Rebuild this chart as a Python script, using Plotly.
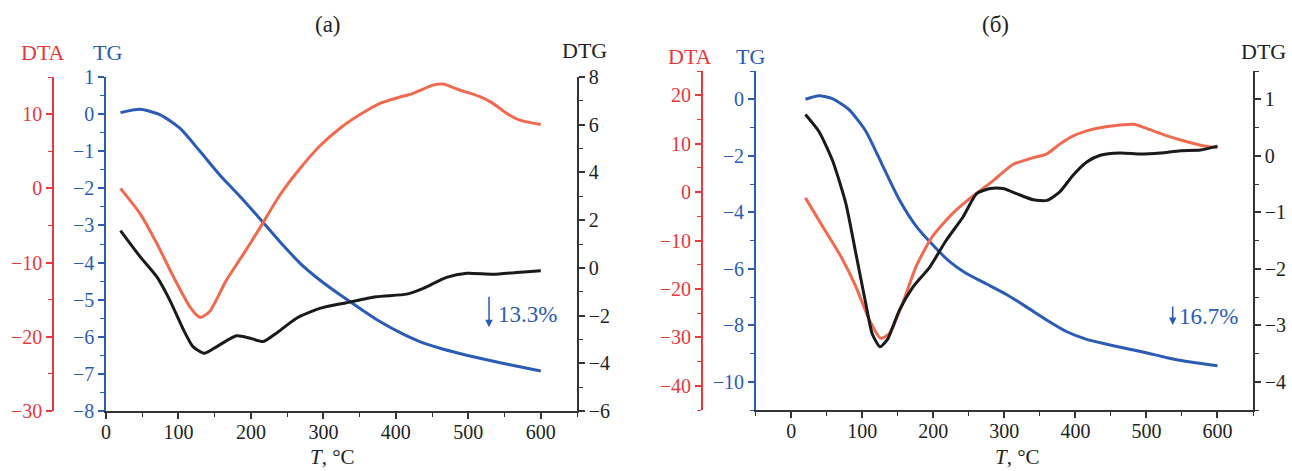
import plotly.graph_objects as go

# ---------------- data: panel (a) ----------------
a_tg_T = [20, 47, 75, 102, 130, 157, 185, 212, 240, 268, 295, 323, 350, 378, 406, 433, 461, 488, 516, 544, 571, 600]
a_tg = [0.04, 0.13, -0.02, -0.38, -1.01, -1.64, -2.22, -2.81, -3.44, -4.02, -4.47, -4.87, -5.23, -5.59, -5.89, -6.13, -6.31, -6.45, -6.58, -6.70, -6.81, -6.92]

a_dta_T = [20, 47, 70, 93, 116, 130, 143, 166, 190, 212, 240, 268, 295, 323, 350, 378, 406, 424, 451, 465, 488, 516, 534, 553, 571, 600]
a_dta = [0.0, -3.4, -7.4, -11.9, -16.0, -17.4, -16.6, -12.4, -8.8, -5.4, -0.9, 2.7, 5.7, 8.1, 9.9, 11.45, 12.3, 12.8, 13.9, 14.06, 13.25, 12.35, 11.45, 10.1, 9.2, 8.6]

a_dtg_T = [20, 47, 70, 88, 107, 120, 136, 153, 180, 199, 217, 235, 263, 295, 332, 373, 415, 438, 470, 498, 534, 567, 600]
a_dtg = [1.56, 0.47, -0.37, -1.35, -2.6, -3.3, -3.58, -3.3, -2.85, -2.95, -3.09, -2.74, -2.11, -1.7, -1.46, -1.21, -1.1, -0.86, -0.4, -0.23, -0.27, -0.19, -0.12]

# ---------------- data: panel (б) ----------------
b_tg_T = [20, 39, 58, 81, 105, 129, 152, 176, 199, 223, 246, 275, 303, 331, 360, 388, 416, 444, 473, 501, 529, 557, 600]
b_tg = [0, 0.12, 0.02, -0.36, -1.13, -2.37, -3.55, -4.5, -5.15, -5.75, -6.16, -6.54, -6.91, -7.35, -7.82, -8.23, -8.5, -8.67, -8.83, -8.98, -9.15, -9.28, -9.43]

b_dta_T = [20, 44, 70, 91, 110, 126, 138, 157, 176, 199, 228, 256, 284, 312, 341, 360, 378, 397, 425, 454, 482, 501, 529, 557, 586, 600]
b_dta = [-1.2, -7.05, -13.3, -19.5, -26.4, -30.2, -29.2, -22.9, -15.3, -9.1, -4.3, -0.8, 2.3, 5.7, 7.1, 7.9, 9.9, 11.6, 13.0, 13.7, 14.0, 13.1, 11.6, 10.4, 9.4, 9.2]

b_dtg_T = [20, 39, 58, 77, 91, 105, 114, 125, 136, 152, 171, 195, 218, 242, 261, 280, 298, 317, 341, 360, 378, 397, 416, 435, 463, 492, 520, 548, 576, 600]
b_dtg = [0.73, 0.43, -0.08, -0.85, -1.73, -2.62, -3.15, -3.38, -3.24, -2.74, -2.33, -1.97, -1.5, -1.08, -0.67, -0.58, -0.58, -0.67, -0.78, -0.79, -0.64, -0.34, -0.11, 0.01, 0.05, 0.03, 0.05, 0.09, 0.10, 0.17]

titles = ["(a)", "(б)"]
losses = ["13.3%", "16.7%"]

# ---------------- styles ----------------
FONT = "Liberation Serif"
BLUE = "#2a5cb4"
RED_AX = "#e8383c"
RED_LN = "#f06a50"
BLACK = "#1a1a1a"
GRAY = "#333333"
W, H = 1292, 471

def px(x):
    return x / W

def py(y):
    return 1 - y / H

fig = go.Figure()
sp = dict(shape="spline", smoothing=0.6)
fig.add_trace(go.Scatter(x=a_tg_T, y=a_tg, xaxis="x", yaxis="y", mode="lines", line=dict(color=BLUE, width=3, **sp)))
fig.add_trace(go.Scatter(x=a_dta_T, y=a_dta, xaxis="x", yaxis="y2", mode="lines", line=dict(color=RED_LN, width=3, **sp)))
fig.add_trace(go.Scatter(x=a_dtg_T, y=a_dtg, xaxis="x", yaxis="y3", mode="lines", line=dict(color=BLACK, width=3, **sp)))
fig.add_trace(go.Scatter(x=b_tg_T, y=b_tg, xaxis="x2", yaxis="y4", mode="lines", line=dict(color=BLUE, width=3, **sp)))
fig.add_trace(go.Scatter(x=b_dta_T, y=b_dta, xaxis="x2", yaxis="y5", mode="lines", line=dict(color=RED_LN, width=3, **sp)))
fig.add_trace(go.Scatter(x=b_dtg_T, y=b_dtg, xaxis="x2", yaxis="y6", mode="lines", line=dict(color=BLACK, width=3, **sp)))

def axis(color, rng, dtick, minor, **kw):
    d = dict(range=rng, dtick=dtick, tick0=0, showgrid=False, zeroline=False,
             showline=True, linecolor=color, linewidth=1.5, automargin=False,
             ticks="outside", ticklen=6, tickwidth=1.5, tickcolor=color,
             tickfont=dict(family=FONT, size=20, color=color),
             minor=dict(dtick=minor, tick0=0, ticks="outside", ticklen=4, tickwidth=1.2, tickcolor=color, showgrid=False),
             fixedrange=True)
    d.update(kw)
    return d

ya = [py(411), py(77)]
yb = [py(410), py(71)]

fig.update_layout(
    width=W, height=H, margin=dict(l=0, r=0, t=0, b=0, pad=0), autosize=False,
    paper_bgcolor="white", plot_bgcolor="white", showlegend=False,
    xaxis=axis(GRAY, [0, 650], 100, 50, domain=[px(106), px(577)], anchor="y",
               ticklabelstandoff=-4, tickfont=dict(family=FONT, size=20, color="#222")),
    yaxis=axis(BLUE, [-8, 1], 1, 0.5, domain=ya, anchor="x"),
    yaxis2=axis(RED_AX, [-30, 15], 10, 5, overlaying="y", anchor="free", position=px(53), side="left"),
    yaxis3=axis(GRAY, [-6, 8], 2, 1, overlaying="y", anchor="x", side="right",
                tickfont=dict(family=FONT, size=20, color="#222")),
    xaxis2=axis(GRAY, [-50, 650], 100, 50, domain=[px(755.7), px(1253)], anchor="y4",
                ticklabelstandoff=-4, tickfont=dict(family=FONT, size=20, color="#222")),
    yaxis4=axis(BLUE, [-11, 1], 2, 1, domain=yb, anchor="x2"),
    yaxis5=axis(RED_AX, [-45, 25], 10, 5, overlaying="y4", anchor="free", position=px(701.7), side="left"),
    yaxis6=axis(GRAY, [-4.5, 1.5], 1, 0.5, overlaying="y4", anchor="x2", side="right",
                tickfont=dict(family=FONT, size=20, color="#222")),
)

ann = []
def txt(x, y, t, color, size=22):
    ann.append(dict(x=px(x), y=py(y), xref="paper", yref="paper", text=t, showarrow=False,
                    font=dict(family=FONT, size=size, color=color), xanchor="center", yanchor="middle"))

# panel titles
txt(328, 25, titles[0], "#222", 23)
txt(995, 25, titles[1], "#222", 23)
# axis titles
txt(43, 53, "DTA", RED_AX)
txt(107, 53, "TG", BLUE)
txt(584, 51, "DTG", "#222")
txt(690, 57, "DTA", RED_AX)
txt(750, 57, "TG", BLUE)
txt(1263, 52, "DTG", "#222")
# x titles
txt(332, 457, "<i>T</i>, °C", "#222", 21)
txt(1017, 457, "<i>T</i>, °C", "#222", 21)

# mass-loss annotations
ann.append(dict(x=528.6, y=-5.74, xref="x", yref="y", text="", showarrow=True, ax=0, ay=-32,
                arrowhead=2, arrowsize=1, arrowwidth=1.5, arrowcolor=BLUE))
ann.append(dict(x=581, y=-5.41, xref="x", yref="y", text=losses[0], showarrow=False,
                font=dict(family=FONT, size=23, color=BLUE)))
ann.append(dict(x=537, y=-7.99, xref="x2", yref="y4", text="", showarrow=True, ax=0, ay=-20,
                arrowhead=2, arrowsize=1, arrowwidth=1.5, arrowcolor=BLUE))
ann.append(dict(x=588, y=-7.70, xref="x2", yref="y4", text=losses[1], showarrow=False,
                font=dict(family=FONT, size=23, color=BLUE)))

fig.update_layout(annotations=ann)
fig.write_html("out.html")
